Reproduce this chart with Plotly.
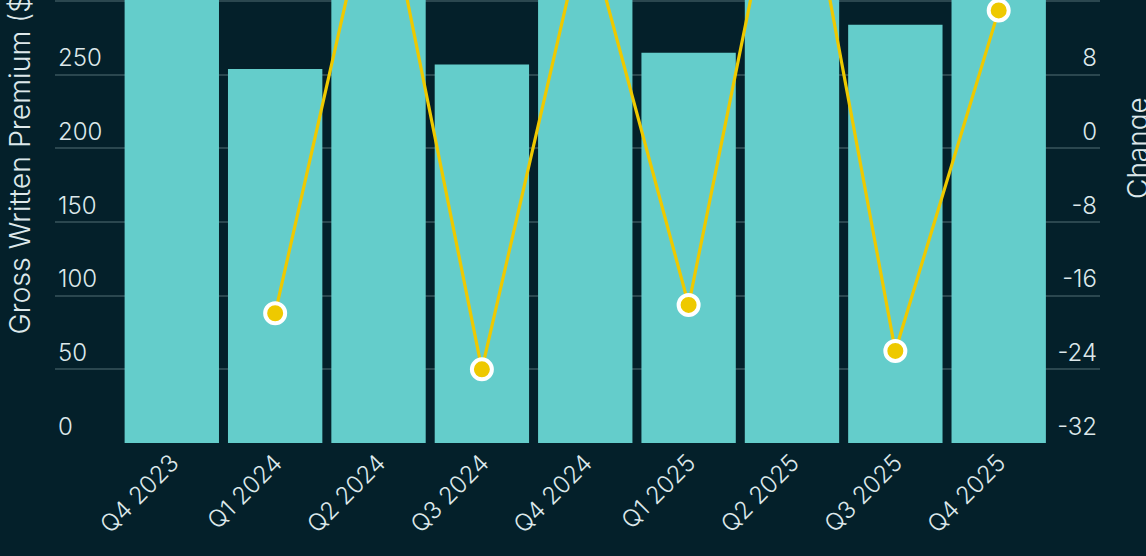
import plotly.graph_objects as go

quarters = ["Q4 2023", "Q1 2024", "Q2 2024", "Q3 2024", "Q4 2024",
            "Q1 2025", "Q2 2025", "Q3 2025", "Q4 2025"]
gwp = [310, 254, 335, 257, 320, 265, 367, 284, 327]
change = [None, -17.9, 31.6, -24.0, 24.6, -17.0, 38.3, -22.0, 15.0]

left_ticks = [0, 50, 100, 150, 200, 250, 300]
right_ticks = [-32, -24, -16, -8, 0, 8, 16]

BG = "#04202a"
BAR = "#64cdcb"
GRID = "#2b474f"
LINE = "#eec900"
TXT = "#dde8ea"
FONT = "Inter"
WT = 300

fig = go.Figure()
fig.add_trace(go.Bar(x=list(range(len(quarters))), y=gwp, marker=dict(color=BAR, line=dict(width=0)),
                     name="Gross Written Premium", yaxis="y"))
fig.add_trace(go.Scatter(x=list(range(len(quarters))), y=change, mode="lines+markers", yaxis="y2",
                         name="Change",
                         line=dict(color=LINE, width=3.2),
                         marker=dict(color=LINE, size=20, line=dict(color="white", width=4))))

W, H = 1146, 556
L, R, T, B = 55, 46, 0, 113
ph = H - T - B

tf = dict(size=24, color=TXT, family=FONT, weight=WT)

fig.update_layout(
    width=W, height=H,
    margin=dict(l=L, r=R, t=T, b=B, autoexpand=False),
    paper_bgcolor=BG, plot_bgcolor=BG,
    showlegend=False,
    bargap=0.087,
    font=dict(family=FONT, color=TXT, size=24),
    xaxis=dict(range=[-1.13, 8.98], tickmode="array", tickvals=list(range(len(quarters))),
               ticktext=quarters, tickangle=-45, showgrid=False, zeroline=False,
               showline=False, ticks="", tickfont=tf, automargin=False),
    yaxis=dict(range=[0, 300.8], tickmode="array", tickvals=left_ticks,
               ticktext=[str(v) for v in left_ticks],
               ticklabelposition="inside top", showgrid=True, gridcolor=GRID, gridwidth=2,
               zeroline=False, showline=False, ticks="", tickfont=tf,
               automargin=False),
    yaxis2=dict(range=[-32, 16.13], overlaying="y", side="right", tickmode="array",
                tickvals=right_ticks, ticktext=[str(v) for v in right_ticks],
                ticklabelposition="inside top", showgrid=False, zeroline=False,
                showline=False, ticks="", tickfont=tf, automargin=False),
)

def py(pix):
    return (H - B - pix) / ph

fig.add_annotation(text="Gross Written Premium ($M)", textangle=-90, showarrow=False,
                   xref="paper", yref="paper", x=(19 - L) / (W - L - R), y=py(337),
                   xanchor="center", yanchor="bottom",
                   font=dict(size=28.5, color=TXT, family=FONT, weight=WT))
fig.add_annotation(text="Change", textangle=-90, showarrow=False,
                   xref="paper", yref="paper", x=(1138 - L) / (W - L - R), y=py(201),
                   xanchor="center", yanchor="bottom",
                   font=dict(size=28, color=TXT, family=FONT, weight=WT))

fig.write_html("out.html", config={"displayModeBar": False},
               post_script="document.body.style.margin='0';document.body.style.overflow='hidden';")
